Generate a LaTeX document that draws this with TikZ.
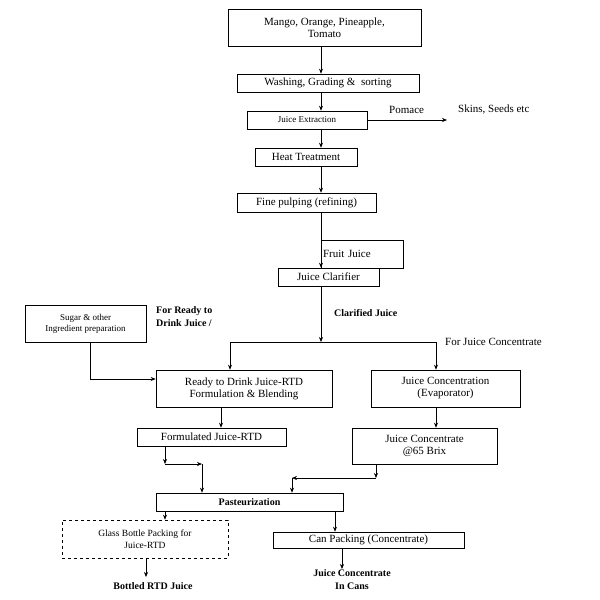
\documentclass[tikz,border=0pt]{standalone}
\usepackage{fontspec}
\setmainfont{Liberation Serif}
\usetikzlibrary{arrows.meta}
\begin{document}
\begin{tikzpicture}[x=1pt,y=-1pt,
  box/.style={draw,line width=0.6pt,inner sep=0pt,align=center,font=\fontsize{11}{12}\selectfont},
  lbl/.style={inner sep=0pt,align=center,font=\fontsize{11}{12}\selectfont},
  blbl/.style={inner sep=0pt,align=center,font=\bfseries\fontsize{10}{13}\selectfont},
  arr/.style={line width=0.6pt,-{Stealth[length=5pt,width=4pt]}},
  ln/.style={line width=0.6pt}]
\useasboundingbox (0,0) rectangle (600,600);
\node[box,minimum width=193pt,minimum height=37pt] (mango) at (324.5,27.5) {Mango, Orange, Pineapple,\\Tomato};
\node[box,minimum width=182pt,minimum height=18pt] (wash) at (328,83) {Washing, Grading \&\ \ sorting};
\node[box,minimum width=120pt,minimum height=18pt,font=\fontsize{9}{10}\selectfont] (extr) at (307,120) {Juice Extraction};
\node[box,minimum width=102pt,minimum height=18pt] (heat) at (306,157) {Heat Treatment};
\node[box,minimum width=139pt,minimum height=19pt] (fine) at (306.5,202.5) {Fine pulping (refining)};
\node[box,minimum width=82pt,minimum height=28pt,text width=78pt,align=left] (fruit) at (362,254) {Fruit Juice\\[4pt]};
\node[box,minimum width=101pt,minimum height=18pt] (clar) at (328.5,277) {Juice Clarifier};
\node[box,minimum width=121pt,minimum height=37pt,font=\fontsize{9}{11}\selectfont] (sugar) at (85.5,323.5) {Sugar \& other\\Ingredient preparation};
\node[blbl,anchor=north west,align=left] (ready) at (156,306) {For Ready to\\Drink Juice /};
\node[blbl,anchor=west] (clj) at (334,313) {Clarified Juice};
\node[lbl,anchor=west] (fjc) at (445,342) {For Juice Concentrate};
\node[box,minimum width=176pt,minimum height=37pt] (rtd) at (244,388.5) {Ready to Drink Juice-RTD\\Formulation \& Blending};
\node[box,minimum width=149pt,minimum height=37pt] (evap) at (445.5,388.5) {Juice Concentration\\(Evaporator)};
\node[box,minimum width=149pt,minimum height=18pt] (form) at (211.5,437) {Formulated Juice-RTD};
\node[box,minimum width=145pt,minimum height=36pt] (conc) at (424.5,446) {Juice Concentrate\\@65 Brix};
\node[box,minimum width=187pt,minimum height=18pt,font=\bfseries\fontsize{10}{12}\selectfont] (past) at (249.5,502) {Pasteurization};
\node[box,dashed,minimum width=166pt,minimum height=38pt,font=\fontsize{9.5}{12}\selectfont] (glass) at (145,539) {Glass Bottle Packing for\\Juice-RTD};
\node[box,minimum width=191pt,minimum height=16pt] (can) at (368.5,540) {Can Packing (Concentrate)};
\node[blbl] (bott) at (153,586) {Bottled RTD Juice};
\node[blbl,anchor=north] (inc) at (352,569) {Juice Concentrate\\In Cans};
\node[lbl,anchor=west] (pom) at (389,110) {Pomace};
\node[lbl,anchor=west] (skin) at (458,110) {Skins, Seeds etc};
\coordinate (pomend) at (447,120);
\coordinate (j1) at (321,342);
\coordinate (sug1) at (90,379);
\coordinate (f1) at (165,464);
\coordinate (f2) at (202,464);
\coordinate (c1) at (376,478);
\coordinate (c2) at (292,478);
% connectors
\draw[arr] (mango.south -| 321,0) -- (wash.north -| 321,0);
\draw[arr] (wash.south -| 321,0) -- (extr.north -| 321,0);
\draw[arr] (extr.east) -- (pomend);
\draw[arr] (extr.south -| 321,0) -- (heat.north -| 321,0);
\draw[arr] (heat.south -| 321,0) -- (fine.north -| 321,0);
\draw[arr] (fine.south -| 321,0) -- (clar.north -| 321,0);
\draw[arr] (clar.south -| 321,0) -- (j1);
\draw[ln] (230,342) -- (436,342);
\draw[arr] (230,342) -- (rtd.north -| 230,0);
\draw[arr] (436,342) -- (evap.north -| 436,0);
\draw[ln] (sugar.south -| sug1) -- (sug1);
\draw[arr] (sug1) -- (rtd.west |- sug1);
\draw[arr] (rtd.south -| 221,0) -- (form.north -| 221,0);
\draw[arr] (evap.south -| 436,0) -- (conc.north -| 436,0);
\draw[arr] (form.south -| f1) -- (f1);
\draw[arr] (f1) -- (f2);
\draw[arr] (f2) -- (past.north -| f2);
\draw[arr] (conc.south -| c1) -- (c1);
\draw[arr] (c1) -- (c2);
\draw[arr] (c2) -- (past.north -| c2);
\draw[arr] (past.south -| 165,0) -- (glass.north -| 165,0);
\draw[arr] (past.south -| 335,0) -- (can.north -| 335,0);
\draw[arr] (glass.south -| 146,0) -- (146,577);
\draw[arr] (can.south -| 342,0) -- (inc.north -| 342,0);
\end{tikzpicture}
\end{document}
